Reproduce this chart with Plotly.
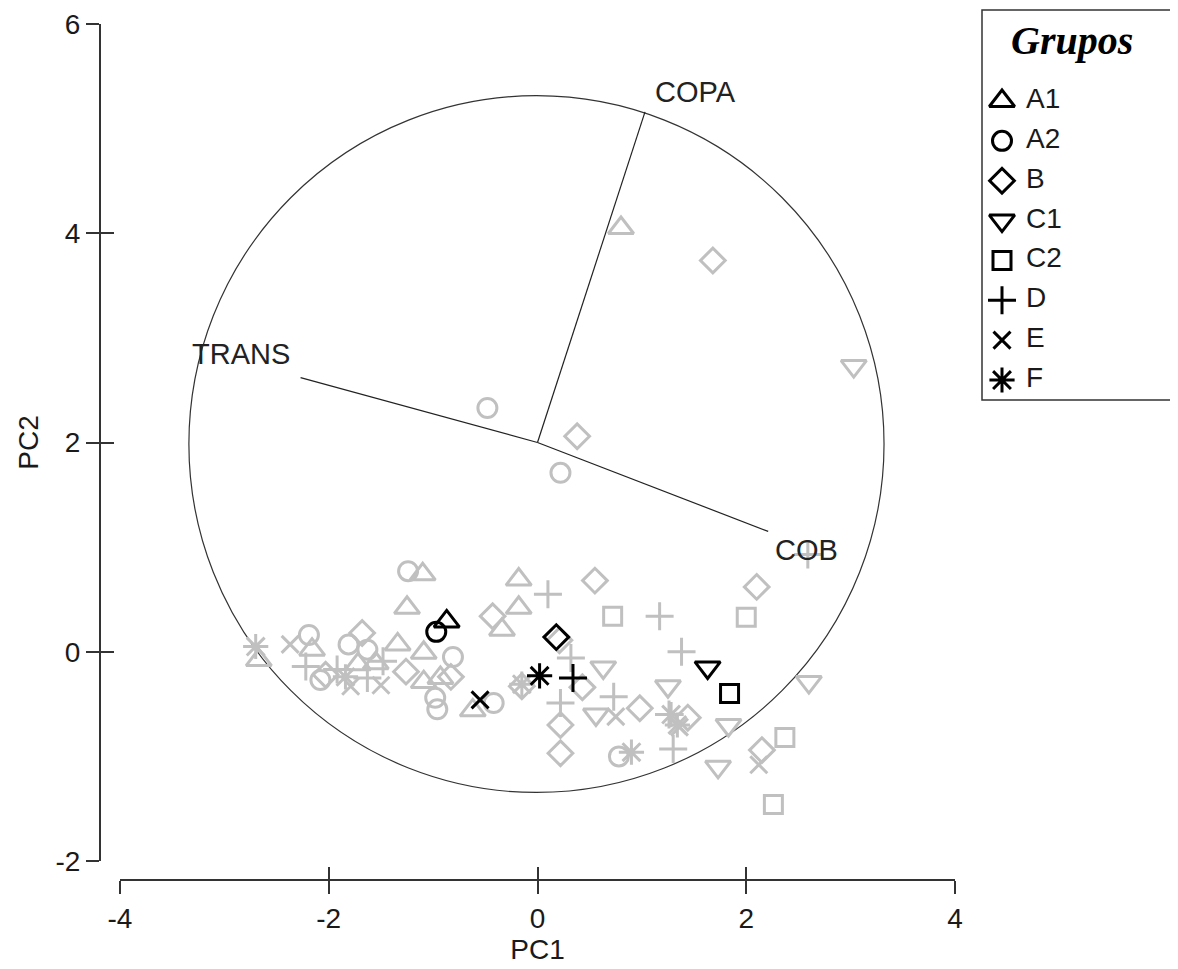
import plotly.graph_objects as go

# ---------------- data ----------------
groups = ["A1", "A2", "B", "C1", "C2", "D", "E", "F"]
symbols = ["triangle-up-open", "circle-open", "diamond-open", "triangle-down-open",
           "square-open", "cross-thin-open", "x-thin-open", "asterisk-open"]
sizes = [22, 19, 19, 22, 18, 20, 17, 21]

a1_x = [0.80, -0.18, -0.18, -0.34, -0.62, -1.10, -1.25, -2.67, -2.16, -1.72, -1.55, -1.34, -1.09, -1.09, -0.93]
a1_y = [4.05, 0.69, 0.42, 0.21, -0.56, 0.74, 0.42, -0.08, 0.02, -0.12, -0.11, 0.07, -0.01, -0.29, -0.25]

a2_x = [-0.48, 0.22, -1.24, -2.19, -2.08, -1.81, -1.63, -0.81, -0.98, -0.96, -0.42, 0.78]
a2_y = [2.33, 1.71, 0.77, 0.16, -0.27, 0.07, 0.02, -0.05, -0.44, -0.55, -0.49, -1.00]

b_x = [1.68, 0.38, 2.10, 0.55, -0.43, 0.21, 0.43, -0.15, 0.22, 0.22, 0.98, 1.44, 2.15, -2.03, -1.68, -1.26, -0.83]
b_y = [3.74, 2.06, 0.62, 0.68, 0.34, 0.11, -0.34, -0.33, -0.70, -0.97, -0.54, -0.63, -0.94, -0.22, 0.18, -0.19, -0.24]

c1_x = [3.03, 0.63, 1.25, 0.56, 1.83, 1.73, 2.60]
c1_y = [2.73, -0.15, -0.33, -0.60, -0.70, -1.10, -0.29]

c2_x = [0.72, 2.00, 2.37, 2.26]
c2_y = [0.34, 0.33, -0.82, -1.46]

d_x = [2.59, 1.17, 1.38, 0.10, 0.32, 0.22, 0.73, 1.30, 1.26, -2.22, -1.92, -1.48, -1.63]
d_y = [0.93, 0.34, 0.00, 0.55, -0.06, -0.49, -0.43, -0.93, -0.60, -0.14, -0.17, -0.09, -0.25]

e_x = [-2.37, -1.79, -1.50, 0.75, 2.12, 1.36]
e_y = [0.07, -0.33, -0.32, -0.62, -1.08, -0.72]

f_x = [-2.70, -1.84, 0.90, 1.28, 1.34, -0.15]
f_y = [0.05, -0.24, -0.96, -0.60, -0.70, -0.31]

group_x = [a1_x, a2_x, b_x, c1_x, c2_x, d_x, e_x, f_x]
group_y = [a1_y, a2_y, b_y, c1_y, c2_y, d_y, e_y, f_y]

centroid_x = [-0.87, -0.97, 0.18, 1.63, 1.84, 0.34, -0.55, 0.02]
centroid_y = [0.29, 0.19, 0.14, -0.15, -0.40, -0.25, -0.46, -0.23]

vector_names = ["COPA", "TRANS", "COB"]
vector_x = [1.03, -2.27, 2.21]
vector_y = [5.16, 2.62, 1.15]
vector_origin = [0.0, 2.0]
label_x = [1.51, -2.84, 2.58]
label_y = [5.35, 2.85, 0.97]

circle_cx, circle_cy, circle_r = -0.01, 1.985, 3.33

x_ticks = [-4, -2, 0, 2, 4]
x_tick_labels = ["-4", "-2", "0", "2", "4"]
y_ticks = [-2, 0, 2, 4, 6]
y_tick_labels = ["-2", "0", "2", "4", "6"]

legend_title = "Grupos"

# ---------------- styles ----------------
GRAY = "#c0c0c0"
FONT = "Liberation Sans, Arial, sans-serif"
TXT = "#1a1a1a"
AX = "#333333"

# ---------------- geometry (screen px -> paper) ----------------
OFF = 8                      # page body margin
W, H = 1178 - OFF, 969 - OFF
ML, MR, MT, MB = 92, 0, 0, 89
PW = W - ML - MR
PH = H - MT - MB


def px_x(sx):
    return (sx - OFF - ML) / PW


def px_y(sy):
    return (H - MB - (sy - OFF)) / PH


fig = go.Figure()

# vectors
vx, vy = [], []
for ex, ey in zip(vector_x, vector_y):
    vx += [vector_origin[0], ex, None]
    vy += [vector_origin[1], ey, None]
fig.add_trace(go.Scatter(x=vx, y=vy, mode="lines", line=dict(color="#222222", width=1.2),
                         showlegend=False, hoverinfo="skip"))

# gray sample points
for g, sym, sz, gx, gy in zip(groups, symbols, sizes, group_x, group_y):
    fig.add_trace(go.Scatter(x=gx, y=gy, mode="markers", name=g, showlegend=False,
                             marker=dict(symbol=sym, size=sz, color=GRAY,
                                         line=dict(color=GRAY, width=3))))

# black group centroids
for i, (g, sym, sz) in enumerate(zip(groups, symbols, sizes)):
    fig.add_trace(go.Scatter(x=[centroid_x[i]], y=[centroid_y[i]], mode="markers", name=g,
                             showlegend=False,
                             marker=dict(symbol=sym, size=sz, color="black",
                                         line=dict(color="black", width=3))))

# invisible trace for overlay axes (crossing ticks)
fig.add_trace(go.Scatter(x=[x_ticks[0]], y=[y_ticks[0]], xaxis="x2", yaxis="y2", mode="markers",
                         marker=dict(opacity=0), showlegend=False, hoverinfo="skip"))

# legend (drawn on its own small axes): rows are group indices
row_px = 39.86          # row spacing in px
box_top, box_bot = 10, 400
first_row = 101
leg_hi = (first_row - box_top) / row_px
leg_lo = leg_hi - (box_bot - box_top) / row_px
for i, (g, sym, sz) in enumerate(zip(groups, symbols, sizes)):
    fig.add_trace(go.Scatter(x=[20], y=[-i], xaxis="x3", yaxis="y3",
                             mode="markers", showlegend=False, hoverinfo="skip",
                             marker=dict(symbol=sym, size=sz, color="black",
                                         line=dict(color="black", width=3))))
    fig.add_trace(go.Scatter(x=[44], y=[-i], xaxis="x3", yaxis="y3",
                             mode="text", text=[g], textposition="middle right",
                             textfont=dict(family=FONT, size=28, color=TXT),
                             showlegend=False, hoverinfo="skip"))

fig.add_shape(type="circle", xref="x", yref="y",
              x0=circle_cx - circle_r, x1=circle_cx + circle_r,
              y0=circle_cy - circle_r, y1=circle_cy + circle_r,
              line=dict(color="#333333", width=1.2), layer="below")

for name, lx, ly in zip(vector_names, label_x, label_y):
    fig.add_annotation(x=lx, y=ly, xref="x", yref="y", text=name, showarrow=False,
                       xanchor="center", yanchor="middle",
                       font=dict(family=FONT, size=29, color="#222222"))

# legend box and title
fig.add_shape(type="rect", xref="paper", yref="paper",
              x0=px_x(982), x1=px_x(1175), y0=px_y(box_bot), y1=px_y(box_top),
              line=dict(color="#333333", width=1.5), fillcolor="rgba(0,0,0,0)")
fig.add_annotation(x=px_x(1072), y=px_y(40), xref="paper", yref="paper",
                   xanchor="center", yanchor="middle",
                   text="<b><i>" + legend_title + "</i></b>", showarrow=False,
                   font=dict(family="Liberation Serif, Times New Roman, serif", size=40, color="black"))

xdom = [px_x(120), px_x(955)]
ydom = [px_y(861), px_y(24)]

common = dict(showgrid=False, zeroline=False, tickcolor=AX, tickwidth=1.5, ticklen=13)
hidden = dict(visible=False, showgrid=False, zeroline=False, fixedrange=True)
fig.update_layout(
    width=W, height=H,
    margin=dict(l=ML, r=MR, t=MT, b=MB, autoexpand=False),
    paper_bgcolor="white", plot_bgcolor="rgba(0,0,0,0)",
    font=dict(family=FONT, color=TXT),
    xaxis=dict(domain=xdom, range=[x_ticks[0], x_ticks[-1]], anchor="free", position=px_y(880),
               tickvals=x_ticks, ticktext=x_tick_labels, ticks="outside", showline=True,
               linecolor=AX, linewidth=2, tickfont=dict(size=28, color=TXT),
               title=dict(text="PC1", font=dict(size=28, color=TXT), standoff=6), **common),
    yaxis=dict(domain=ydom, range=[y_ticks[0], y_ticks[-1]], anchor="free", position=px_x(100),
               tickvals=y_ticks, ticktext=y_tick_labels, ticks="outside", showline=True,
               linecolor=AX, linewidth=2, tickfont=dict(size=28, color=TXT),
               title=dict(text="PC2", font=dict(size=28, color=TXT), standoff=8), **common),
    xaxis2=dict(overlaying="x", range=[x_ticks[0], x_ticks[-1]], anchor="free", position=px_y(880),
                tickvals=x_ticks, ticks="inside", showticklabels=False, showline=False, **common),
    yaxis2=dict(overlaying="y", range=[y_ticks[0], y_ticks[-1]], anchor="free", position=px_x(100),
                tickvals=y_ticks, ticks="inside", showticklabels=False, showline=False, **common),
    xaxis3=dict(domain=[px_x(982), px_x(1175)], range=[0, 1175 - 982], anchor="y3", **hidden),
    yaxis3=dict(domain=[px_y(box_bot), px_y(box_top)], range=[leg_lo, leg_hi], anchor="x3", **hidden),
    showlegend=False,
)

fig.write_html("out.html")
